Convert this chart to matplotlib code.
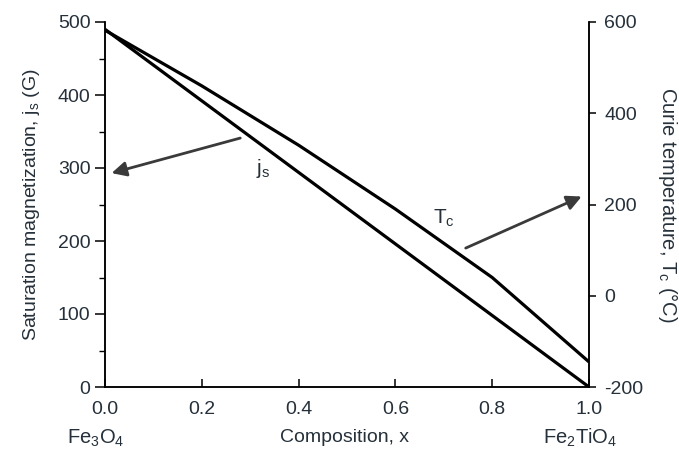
import numpy as np
import matplotlib
matplotlib.use("Agg")
import matplotlib.pyplot as plt
from matplotlib.ticker import MultipleLocator

plt.rcParams['font.family'] = ['Liberation Sans', 'DejaVu Sans']
plt.rcParams['axes.unicode_minus'] = False
plt.rcParams['mathtext.fontset'] = 'custom'
plt.rcParams['mathtext.rm'] = 'Liberation Sans'

# data
x = [0.0, 0.2, 0.4, 0.6, 0.8, 1.0]
js = [490, 392, 294, 196, 98, 0]          # saturation magnetization (G)
tc = [582, 460, 330, 190, 40, -145]       # Curie temperature (degC)

txt = '#25303a'

fig = plt.figure(figsize=(6.79, 4.55), dpi=100)
ax = fig.add_axes([105/679, 1-387/455, (589-105)/679, (387-22)/455])
ax2 = ax.twinx()

ax.plot(x, js, color='black', lw=2.3, solid_capstyle='butt')
ax2.plot(x, tc, color='black', lw=2.3, solid_capstyle='butt')

ax.set_xlim(0, 1)
ax.set_ylim(0, 500)
ax2.set_ylim(-200, 600)

for a in (ax, ax2):
    a.spines['top'].set_visible(False)
    for s in a.spines.values():
        s.set_linewidth(1.1)
    a.patch.set_visible(False)

ax.set_xticks([0, 0.2, 0.4, 0.6, 0.8, 1.0])
ax.set_xticklabels(['0.0', '0.2', '0.4', '0.6', '0.8', '1.0'])
ax.set_yticks([0, 100, 200, 300, 400, 500])
ax.yaxis.set_minor_locator(MultipleLocator(50))
ax2.set_yticks([-200, 0, 200, 400, 600])

ax.tick_params(axis='x', direction='in', length=6, width=1.1, pad=10, labelsize=14, labelcolor=txt)
ax.tick_params(axis='y', which='major', direction='out', length=7, width=1.1, labelsize=14, labelcolor=txt)
ax.tick_params(axis='y', which='minor', direction='out', length=4, width=1.0)
ax2.tick_params(axis='y', direction='out', length=5, width=1.1, labelsize=14, labelcolor=txt, pad=6)

ax.set_ylabel('Saturation magnetization, j$_\\mathregular{s}$ (G)', fontsize=14, color=txt, labelpad=11)
ax2.set_ylabel('Curie temperature, T$_\\mathregular{c}$ (\u00b0C)', fontsize=14.5, color=txt,
               rotation=-90, labelpad=26)

fig.text(345/679, 1-438/455, 'Composition, x', fontsize=14, color=txt, ha='center', va='center')
fig.text(96/679, 1-438/455, 'Fe$_\\mathregular{3}$O$_\\mathregular{4}$', fontsize=14.5, color=txt, ha='center', va='center')
fig.text(580/679, 1-438/455, 'Fe$_\\mathregular{2}$TiO$_\\mathregular{4}$', fontsize=14.5, color=txt, ha='center', va='center')

# curve labels and arrows
ax.text(0.327, 300, 'j$_\\mathregular{s}$', fontsize=15, color=txt, ha='center', va='center')
ax.annotate('', xy=(0.008, 292), xytext=(0.285, 342),
            arrowprops=dict(arrowstyle='-|>', color='#3a3a3a', lw=2, mutation_scale=22))
ax2.text(0.70, 170, 'T$_\\mathregular{c}$', fontsize=15, color=txt, ha='center', va='center')
ax2.annotate('', xy=(0.99, 220), xytext=(0.74, 102),
             arrowprops=dict(arrowstyle='-|>', color='#3a3a3a', lw=2, mutation_scale=22))

fig.savefig('out.png', dpi=100)
